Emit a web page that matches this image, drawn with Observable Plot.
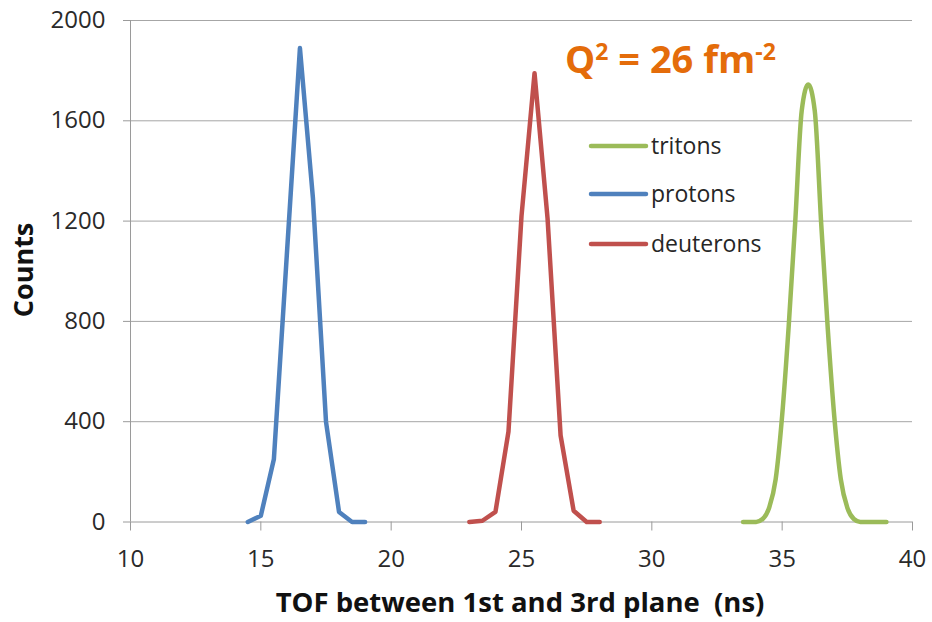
<!DOCTYPE html>
<html>
<head>
<meta charset="utf-8">
<script src="https://cdn.jsdelivr.net/npm/d3@7"></script>
<script src="https://cdn.jsdelivr.net/npm/@observablehq/plot@0.6"></script>
<style>
  body { margin: 0; background: #fff; }
  #wrap { position: relative; width: 932px; height: 622px; }
</style>
</head>
<body>
<div id="wrap"></div>
<script>
// ---- data ----
const protonTOF    = [14.5, 15, 15.5, 16.5, 17, 17.5, 18, 18.5, 19];
const protonCounts = [0, 25, 250, 1890, 1290, 400, 40, 0, 0];

const deuteronTOF    = [23, 23.5, 24, 24.5, 25, 25.5, 26, 26.5, 27, 27.5, 28];
const deuteronCounts = [0, 5, 40, 360, 1220, 1790, 1210, 345, 45, 0, 0];

const tritonTOF    = [33.5, 33.75, 34, 34.25, 34.5, 34.75, 35, 35.25, 35.5, 35.75, 36, 36.25, 36.5, 36.75, 37, 37.25, 37.5, 37.75, 38, 38.25, 38.5, 38.75, 39];
const tritonCounts = [0, 0, 0, 12, 57, 170, 425, 780, 1195, 1640, 1745, 1640, 1185, 770, 420, 170, 57, 12, 0, 0, 0, 0, 0];

const seriesNames  = ["tritons", "protons", "deuterons"];
const seriesColors = ["#9BBB59", "#4F81BD", "#C0504D"];

const xTicks = [10, 15, 20, 25, 30, 35, 40];
const yTicks = [0, 400, 800, 1200, 1600, 2000];

const xTitle = "TOF between 1st and 3rd plane  (ns)";
const yTitle = "Counts";

// ---- build ----
const rows = (xs, ys) => xs.map((x, i) => ({x, y: ys[i]}));
const FONT = "'Open Sans', Lato, sans-serif";
const lineOpts = {x: "x", y: "y", strokeWidth: 4.5, strokeLinejoin: "round", strokeLinecap: "round"};

const chart = Plot.plot({
  width: 932,
  height: 622,
  marginLeft: 130,
  marginRight: 20,
  marginTop: 20,
  marginBottom: 100.5,
  style: {fontFamily: FONT, background: "#fff", color: "#333"},
  x: {domain: [xTicks[0], xTicks[xTicks.length - 1]]},
  y: {domain: [yTicks[0], yTicks[yTicks.length - 1]]},
  marks: [
    Plot.gridY(yTicks.slice(1), {stroke: "#A6A6A6", strokeOpacity: 1}),
    Plot.ruleX([xTicks[0]], {stroke: "#9A9A9A"}),
    Plot.ruleY([yTicks[0]], {stroke: "#9A9A9A"}),
    Plot.axisX(xTicks, {tickSize: 9, tickPadding: 19, stroke: "#9A9A9A", fill: "#2a2a2a", fontSize: 24, label: null, tickFormat: d => String(d)}),
    Plot.axisY(yTicks, {tickSize: 7, tickPadding: 18, stroke: "#9A9A9A", fill: "#2a2a2a", fontSize: 24, label: null, tickFormat: d => String(d)}),
    Plot.line(rows(tritonTOF, tritonCounts), {...lineOpts, stroke: seriesColors[0], curve: "monotone-x"}),
    Plot.line(rows(protonTOF, protonCounts), {...lineOpts, stroke: seriesColors[1]}),
    Plot.line(rows(deuteronTOF, deuteronCounts), {...lineOpts, stroke: seriesColors[2]})
  ]
});

document.getElementById("wrap").appendChild(chart);
const svg = d3.select(chart);

// Axis titles
svg.append("text")
  .attr("x", 520).attr("y", 612)
  .attr("text-anchor", "middle")
  .attr("font-family", FONT).attr("font-weight", "bold").attr("font-size", 27.5)
  .attr("fill", "#111")
  .text(xTitle);

svg.append("text")
  .attr("transform", "translate(33,270) rotate(-90)")
  .attr("text-anchor", "middle")
  .attr("font-family", FONT).attr("font-weight", "bold").attr("font-size", 27)
  .attr("fill", "#111")
  .text(yTitle);

// Title annotation Q^2 = 26 fm^-2
const t = svg.append("text")
  .attr("x", 565).attr("y", 73)
  .attr("text-anchor", "start")
  .attr("font-family", FONT).attr("font-weight", "bold").attr("font-size", 38)
  .attr("fill", "#E46C0A");
t.append("tspan").text("Q");
t.append("tspan").attr("dy", -13).attr("font-size", 23).text("2");
t.append("tspan").attr("dy", 13).text(" = 26 fm");
t.append("tspan").attr("dy", -13).attr("font-size", 23).text("-2");

// Legend
const legendY = [146, 194, 244];
const lg = svg.append("g").attr("text-anchor", "start");
seriesNames.forEach((name, i) => {
  lg.append("line")
    .attr("x1", 591).attr("x2", 646)
    .attr("y1", legendY[i]).attr("y2", legendY[i])
    .attr("stroke", seriesColors[i]).attr("stroke-width", 4.5)
    .attr("stroke-linecap", "round");
  lg.append("text")
    .attr("x", 651).attr("y", legendY[i]).attr("dy", "0.35em")
    .attr("text-anchor", "start")
    .attr("font-family", FONT).attr("font-size", 23)
    .attr("fill", "#262626")
    .text(name);
});
</script>
</body>
</html>
